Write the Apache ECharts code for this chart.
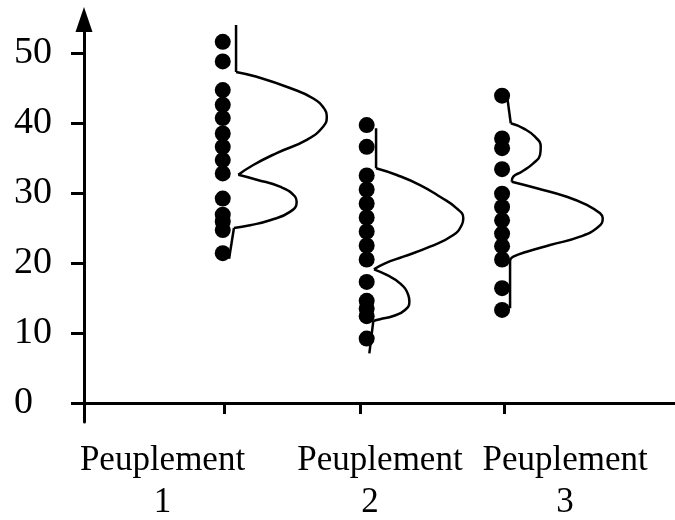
<!DOCTYPE html>
<html lang="fr">
<head>
  <meta charset="UTF-8">
  <title>Peuplements</title>
  <script src="https://cdn.jsdelivr.net/npm/echarts@6.0.0/dist/echarts.min.js"></script>
  <style>
    html, body { margin: 0; padding: 0; background: #fff; }
    #chart { width: 675px; height: 520px; }
  </style>
</head>
<body>
  <div id="chart"></div>
  <script>
    // x positions are in "population" units (1 unit ~ spacing between groups)
    let categories = ['Peuplement\n1', 'Peuplement\n2', 'Peuplement\n3'];
    let tickPos = [1, 1.971, 3];
    let labelPos = [0.5607, 2.114, 3.436];
    let dotPos = [0.991, 2.019, 2.986];
    let yTicks = [0, 10, 20, 30, 40, 50];

    let pop1 = [51.6, 48.8, 44.7, 42.6, 40.7, 38.5, 36.6, 34.7, 32.8, 29.2, 26.9, 25.9, 24.7, 21.4];
    let pop2 = [39.7, 36.6, 32.5, 30.5, 28.5, 26.5, 24.5, 22.5, 20.5, 17.3, 14.6, 13.5, 12.4, 9.2];
    let pop3 = [43.9, 37.8, 36.4, 33.4, 29.9, 28.0, 26.1, 24.2, 22.4, 20.5, 16.4, 13.3];

    // sideways density curves, split into pieces so the corners stay sharp
    let curve1 = [
      [[1.086, 54.0], [1.086, 47.3]],
      [[1.086, 47.3], [1.234, 46.6], [1.471, 45.0], [1.638, 43.5], [1.721, 41.9], [1.734, 41.0], [1.709, 39.5], [1.591, 37.6], [1.376, 35.7], [1.209, 34.0], [1.102, 32.6]],
      [[1.102, 32.6], [1.234, 31.9], [1.4, 30.9], [1.507, 29.5], [1.519, 28.7], [1.471, 27.3], [1.329, 26.1], [1.186, 25.4], [1.071, 25.0]],
      [[1.071, 25.0], [1.036, 20.6]]
    ];
    let curve2 = [
      [[2.086, 39.24], [2.086, 33.53]],
      [[2.086, 33.53], [2.234, 32.57], [2.4, 31.14], [2.543, 29.47], [2.662, 27.81], [2.709, 26.39], [2.698, 25.43], [2.638, 24.0], [2.471, 22.33], [2.281, 20.9], [2.15, 19.96], [2.071, 19.1]],
      [[2.071, 19.1], [2.162, 18.29], [2.257, 17.1], [2.316, 15.43], [2.324, 14.47], [2.293, 13.29], [2.209, 12.43], [2.114, 11.96], [2.066, 11.71]],
      [[2.066, 11.71], [2.038, 7.1]]
    ];
    let curve3 = [
      [[3.024, 43.53], [3.048, 39.96]],
      [[3.048, 39.96], [3.138, 39.24], [3.221, 38.04], [3.262, 36.61], [3.257, 35.43], [3.209, 34.24], [3.126, 33.04], [3.066, 32.33], [3.055, 31.6]],
      [[3.055, 31.6], [3.234, 30.67], [3.448, 29.47], [3.591, 28.29], [3.686, 27.1], [3.705, 26.39], [3.674, 25.19], [3.543, 23.76], [3.329, 22.57], [3.162, 21.61], [3.066, 20.9], [3.043, 20.43]],
      [[3.043, 20.43], [3.043, 13.53]]
    ];
  </script>
  <script>
    let font = 'Liberation Serif, Times New Roman, serif';
    let pops = [pop1, pop2, pop3];
    let curves = [curve1, curve2, curve3];

    let series = [];
    curves.forEach(c => {
      c.forEach(seg => {
        series.push({
          type: 'line',
          data: seg,
          smooth: 0.5,
          showSymbol: false,
          silent: true,
          lineStyle: { color: '#000', width: 2.5, opacity: 1 },
          z: 3
        });
      });
    });
    pops.forEach((p, i) => {
      series.push({
        type: 'scatter',
        data: p.map(v => [dotPos[i], v]),
        symbol: 'circle',
        symbolSize: 16,
        itemStyle: { color: '#000', opacity: 1 },
        z: 2
      });
    });

    let chart = echarts.init(document.getElementById('chart'));
    let option = {
      animation: false,
      grid: {
        left: 81, right: 0, top: 19.5, bottom: 98,
        containLabel: false,
        outerBoundsMode: 'none'
      },
      xAxis: {
        type: 'value',
        min: -0.0214,
        max: 4.221,
        splitLine: { show: false },
        axisLine: { show: true, lineStyle: { color: '#000', width: 3 } },
        axisTick: {
          show: true,
          customValues: tickPos,
          length: 11,
          lineStyle: { color: '#000', width: 3 }
        },
        axisLabel: {
          customValues: labelPos,
          formatter: function (v) {
            let best = 0;
            labelPos.forEach((p, i) => {
              if (Math.abs(p - v) < Math.abs(labelPos[best] - v)) { best = i; }
            });
            let parts = categories[best].split('\n');
            let numStyle = best === 1 ? 'n2' : 'n';
            return '{t|' + parts[0] + '}\n{' + numStyle + '|' + parts[1] + '}';
          },
          margin: 18,
          color: '#000',
          fontFamily: font,
          fontSize: 35,
          lineHeight: 42,
          rich: {
            t: { fontFamily: font, fontSize: 35, lineHeight: 42, color: '#000' },
            n: { fontFamily: font, fontSize: 35, lineHeight: 42, color: '#000' },
            n2: { fontFamily: font, fontSize: 35, lineHeight: 42, color: '#000', padding: [0, 20, 0, 0] }
          }
        }
      },
      yAxis: {
        type: 'value',
        min: -2.714,
        max: 54.786,
        splitLine: { show: false },
        axisLine: {
          show: true,
          symbol: ['none', 'triangle'],
          symbolSize: [17, 25],
          lineStyle: { color: '#000', width: 3 }
        },
        axisTick: {
          show: true,
          customValues: yTicks,
          length: 13,
          lineStyle: { color: '#000', width: 3 }
        },
        axisLabel: {
          customValues: yTicks,
          align: 'left',
          margin: 67,
          color: '#000',
          fontFamily: font,
          fontSize: 38
        }
      },
      series: series
    };
    chart.setOption(option);
  </script>
</body>
</html>
